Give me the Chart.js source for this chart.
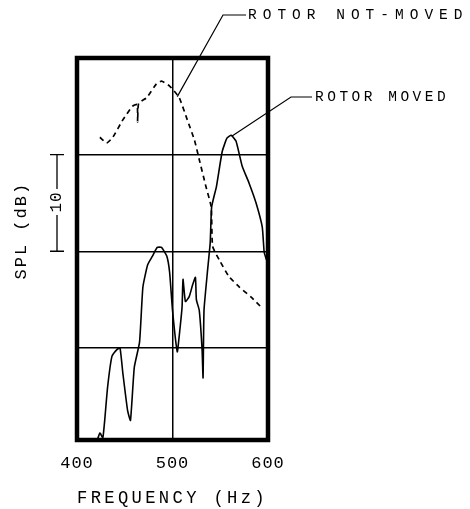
<!DOCTYPE html>
<html>
<head>
<meta charset="utf-8">
<script src="https://cdn.jsdelivr.net/npm/chart.js@4/dist/chart.umd.min.js"></script>
<style>
  body { margin: 0; background: #fff; }
</style>
</head>
<body>
<canvas id="myChart" width="470" height="509"></canvas>
<script>
// rotor not-moved (dashed) - frequency Hz / SPL dB
var notMovedFreq = [424, 431, 437.5, 448, 458, 463, 463.5, 464.5, 473, 483, 488.5, 497, 507, 515.5, 523, 528, 535, 540.5, 542, 549, 559, 570, 583, 594];
var notMovedSpl  = [31.8, 31.2, 31.8, 33.6, 35.0, 35.2, 33.4, 35.3, 35.9, 37.3, 37.6, 37.1, 35.9, 33.6, 31.5, 29.5, 26.7, 24.6, 20.5, 19.1, 17.4, 16.3, 15.2, 14.1];

// rotor moved (solid)
var movedFreq = [421, 424, 427, 429, 432, 436.5, 441.5, 445, 448, 453, 456, 460, 465.5, 469, 474, 479, 484, 488.5, 494, 497, 500, 505, 507, 510, 511, 513.5, 517.5, 521, 524, 525, 528, 531, 532, 533, 536.5, 539.5, 541, 546, 552, 557, 561.5, 566.5, 573, 580, 587.5, 594, 596, 598.5];
var movedSpl  = [0.4, 1.2, 0.7, 2.5, 5.9, 9.1, 9.8, 10.0, 7.4, 3.5, 2.5, 8.0, 10.6, 16.3, 18.6, 19.5, 20.4, 20.4, 19.5, 17.8, 13.9, 9.6, 11.2, 14.2, 17.1, 14.8, 15.3, 16.5, 17.3, 15.0, 13.9, 9.8, 6.9, 13.9, 17.8, 20.9, 24.6, 26.7, 30.3, 31.7, 32.0, 31.4, 28.8, 27.1, 25.0, 22.5, 19.9, 19.1];

var xTicks = [400, 500, 600];

function pts(xs, ys) {
  var out = [];
  for (var i = 0; i < xs.length; i++) out.push({x: xs[i], y: ys[i]});
  return out;
}

var mono = "'Liberation Mono', 'DejaVu Sans Mono', monospace";

// letter spacing for the typewriter look, per text
var spacing = {
  '400': '1px', '500': '1px', '600': '1px',
  'FREQUENCY (Hz)': '3.5px',
  '   SPL (dB)': '2px',
  '10': '1px',
  'ROTOR NOT-MOVED': '6px',
  'ROTOR MOVED': '3.5px'
};

var extras = {
  id: 'extras',
  beforeInit: function(chart) {
    var ctx = chart.ctx;
    var orig = ctx.fillText;
    ctx.fillText = function(t, x, y, w) {
      this.letterSpacing = spacing[t] || '0px';
      if (w === undefined) return orig.call(this, t, x, y);
      return orig.call(this, t, x, y, w);
    };
  },
  beforeDraw: function(chart) {
    var ctx = chart.ctx;
    ctx.save();
    ctx.fillStyle = '#fff';
    ctx.fillRect(0, 0, chart.width, chart.height);
    ctx.restore();
  },
  afterDraw: function(chart) {
    var ctx = chart.ctx;
    var a = chart.chartArea;
    var xs = chart.scales.x, ys = chart.scales.y;
    ctx.save();
    // thick frame
    ctx.strokeStyle = '#000';
    ctx.lineWidth = 4.5;
    ctx.strokeRect(a.left, a.top, a.right - a.left, a.bottom - a.top);

    // 10 dB scale bar
    var yTop = ys.getPixelForValue(30), yBot = ys.getPixelForValue(20);
    var bx = 57, mid = (yTop + yBot) / 2 - 1;
    ctx.lineWidth = 1.3;
    ctx.beginPath();
    ctx.moveTo(bx - 7, yTop); ctx.lineTo(bx + 7, yTop);
    ctx.moveTo(bx, yTop); ctx.lineTo(bx, mid - 13);
    ctx.moveTo(bx, mid + 13); ctx.lineTo(bx, yBot);
    ctx.moveTo(bx - 7, yBot); ctx.lineTo(bx + 7, yBot);
    ctx.stroke();
    ctx.save();
    ctx.translate(bx, mid);
    ctx.rotate(-Math.PI / 2);
    ctx.fillStyle = '#000';
    ctx.font = '16px ' + mono;
    ctx.textAlign = 'center';
    ctx.textBaseline = 'middle';
    ctx.fillText('10', 0, 0);
    ctx.restore();

    // leader lines + labels
    ctx.lineWidth = 1.2;
    var p1x = xs.getPixelForValue(505), p1y = ys.getPixelForValue(36.0);
    ctx.beginPath();
    ctx.moveTo(p1x, p1y); ctx.lineTo(223, 15); ctx.lineTo(246, 15);
    ctx.stroke();
    var p2x = xs.getPixelForValue(562), p2y = ys.getPixelForValue(31.9);
    ctx.beginPath();
    ctx.moveTo(p2x, p2y); ctx.lineTo(291, 97); ctx.lineTo(312, 97);
    ctx.stroke();

    ctx.fillStyle = '#000';
    ctx.font = '14.5px ' + mono;
    ctx.textAlign = 'left';
    ctx.textBaseline = 'middle';
    ctx.fillText('ROTOR NOT-MOVED', 248, 15);
    ctx.fillText('ROTOR MOVED', 315, 97);
    ctx.restore();
  }
};

new Chart('myChart', {
  type: 'line',
  data: {
    datasets: [{
      label: 'ROTOR NOT-MOVED',
      data: pts(notMovedFreq, notMovedSpl),
      borderColor: '#000',
      borderWidth: 1.7,
      borderDash: [5, 4],
      pointRadius: 0,
      tension: 0.15,
      fill: false
    }, {
      label: 'ROTOR MOVED',
      data: pts(movedFreq, movedSpl),
      borderColor: '#000',
      borderWidth: 1.6,
      pointRadius: 0,
      tension: 0.15,
      fill: false
    }]
  },
  options: {
    responsive: false,
    animation: false,
    devicePixelRatio: 1,
    layout: { padding: { top: 58, right: 202, left: 0, bottom: 0 } },
    plugins: { legend: { display: false }, tooltip: { enabled: false } },
    scales: {
      x: {
        type: 'linear',
        min: 400, max: 600,
        afterBuildTicks: function(s) { s.ticks = xTicks.map(function(v) { return {value: v}; }); },
        afterFit: function(s) { s.height = 69; },
        ticks: { color: '#000', font: { family: mono, size: 17 }, padding: 13, maxRotation: 0 },
        grid: { color: '#000', lineWidth: 1.5, drawTicks: false },
        border: { display: false },
        title: { display: true, text: 'FREQUENCY (Hz)', color: '#000',
                 font: { family: mono, size: 18, lineHeight: 1 }, padding: { top: 0, bottom: 2 } }
      },
      y: {
        min: 0.47, max: 40,
        afterFit: function(s) { s.width = 77; },
        afterBuildTicks: function(s) { s.ticks = [10, 20, 30, 40].map(function(v) { return {value: v}; }); },
        ticks: { display: false },
        grid: { color: '#000', lineWidth: 1.5, drawTicks: false },
        border: { display: false },
        title: { display: true, text: '   SPL (dB)', color: '#000',
                 font: { family: mono, size: 17, lineHeight: 1 }, padding: { top: 13, bottom: 0 } }
      }
    }
  },
  plugins: [extras]
});
</script>
</body>
</html>
